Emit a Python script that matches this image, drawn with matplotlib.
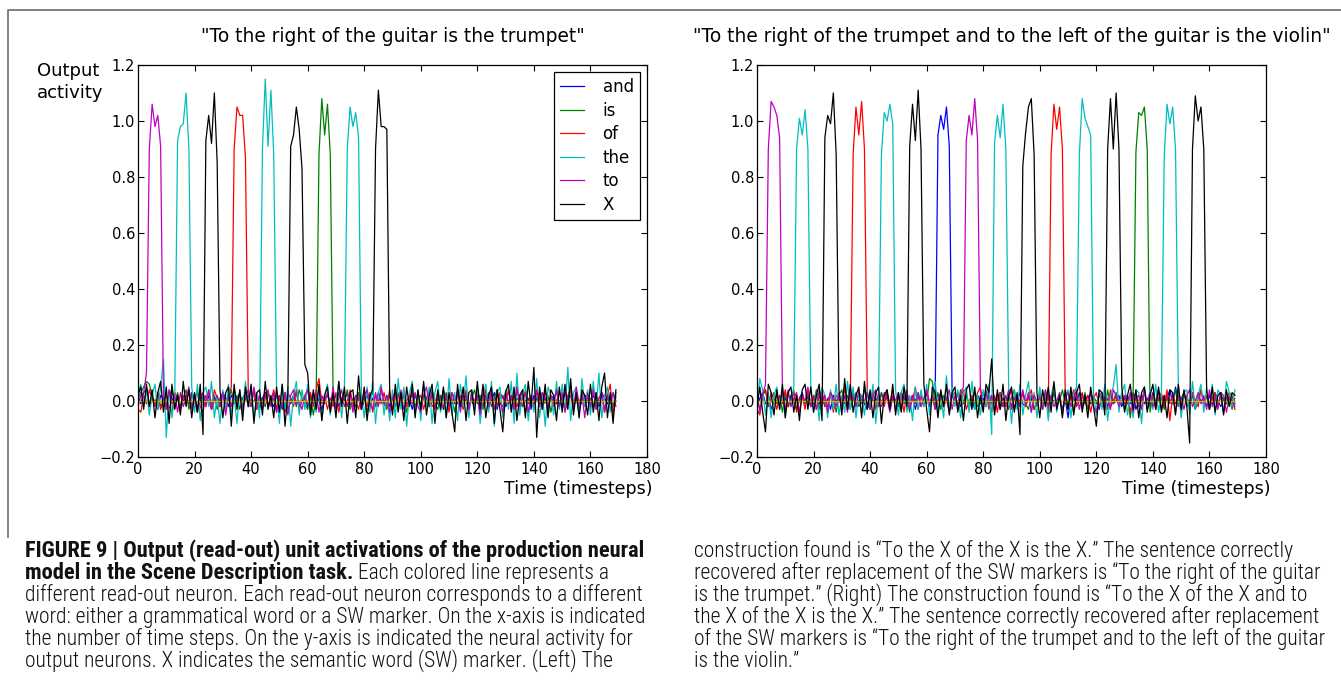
import numpy as np
import matplotlib
matplotlib.use("Agg")
import matplotlib.pyplot as plt
from matplotlib.lines import Line2D

# Read-out activations, in hundredths, one value per timestep (0..169)
# Left: "To the right of the guitar is the trumpet"
left_and = [
    2, -1, 3, 4, -2, 1, 0, -3, 2, 1,
    -2, 3, 1, -1, 2, -3, 0, 2, -1, 3,
    1, -2, 0, 3, -1, 2, -3, 1, 0, -2,
    3, 1, -2, 2, 0, -1, 3, -2, 1, 2,
    -1, 0, 2, -3, 1, 3, -1, 0, -2, 2,
    1, -3, 2, 0, -1, 1, 3, -2, 0, 1,
    -2, 2, -1, 3, 0, -3, 1, 2, -1, 0,
    2, -2, 1, 0, 3, -1, -2, 2, 1, -3,
    0, 2, -1, 1, -2, 3, 0, -1, 2, -2,
    1, 3, -2, 0, 2, -1, 1, -3, 2, 0,
    -1, 2, 1, -2, 3, 0, -1, 2, -3, 1,
    2, -1, 0, 3, -2, 1, 2, -1, 0, -2,
    3, 1, -2, 2, -1, 0, 3, -3, 1, 2,
    -2, 0, 1, -1, 3, 2, -2, 0, 1, -3,
    2, 1, -1, 3, 0, -2, 2, 1, -1, 0,
    -2, 3, 1, 5, -1, 2, -3, 0, 2, 1,
    -1, 2, 0, -2, 3, 1, -1, 2, -2, 0,
]
left_is = [
    1, 3, 5, 7, 6, 2, -1, 3, -2, 0,
    -3, 2, 4, -1, 3, -2, 1, 4, -3, 2,
    0, -4, 3, 1, -2, 4, -1, 2, -3, 1,
    3, -2, 0, 4, -1, 2, -3, 1, 3, -2,
    -1, 4, -3, 2, 0, -2, 3, -1, 1, -4,
    2, -1, 3, -3, 0, 2, -2, 4, 1, -1,
    -3, 2, -5, 1, 88, 108, 95, 106, 88, 2,
    -2, 3, -1, 0, 4, -3, 1, -2, 3, -1,
    2, -4, 1, 3, -2, 0, 4, -1, -3, 2,
    1, -2, 3, -1, 2, -4, 0, 3, -2, 1,
    -3, 2, 1, -2, 4, -1, -3, 2, 0, 3,
    -2, 1, -4, 3, -1, 2, 0, -3, 1, 4,
    -1, 2, -3, 0, 3, -2, 1, 4, -1, -2,
    3, -1, 2, -3, 1, 0, -2, 4, -1, 2,
    -3, 1, 3, -2, 0, 2, -4, 1, 3, -1,
    2, -3, 0, 4, -2, 1, -1, 3, -2, 0,
    1, -2, 3, -1, 2, -3, 1, 0, -2, 3,
]
left_of = [
    -3, -4, 2, -1, 4, 1, -2, 3, -3, 0,
    2, -2, -4, 3, 1, -3, 2, -1, 4, -2,
    1, 3, -2, -4, 2, 0, -3, 4, 1, -2,
    3, -1, 2, 5, 90, 105, 102, 102, 87, 3,
    -2, 4, -3, 1, -1, 3, -2, 0, 4, -3,
    2, -1, -4, 3, 1, -2, 4, -3, 0, 2,
    -1, 3, -2, 4, 8, -1, 2, -3, 1, -2,
    3, -4, 1, 2, -2, 4, -1, 0, -3, 2,
    1, -2, 3, -4, 2, 0, -1, 3, -2, 4,
    -3, 1, 2, -1, 4, -2, 0, 3, -4, 1,
    2, -3, 1, 4, -2, -1, 3, 0, -2, 2,
    -4, 3, 1, -1, 2, -3, 4, -2, 1, 0,
    3, -2, -1, 4, -3, 2, 0, -2, 3, 1,
    -1, 4, -3, 2, -2, 1, 3, -4, 0, 2,
    -2, 3, 1, -3, 4, -1, 2, -2, 0, 3,
    1, -3, 2, 4, -2, 1, -4, 3, -1, 2,
    -3, 5, -2, 1, 3, -4, 2, 6, -5, 2,
]
left_the = [
    3, 6, -2, 4, -5, 2, 6, -3, 5, 15,
    -13, 4, -6, 2, 93, 98, 99, 110, 90, 5,
    -4, 6, -7, 3, 5, -2, 7, -6, 2, -8,
    4, -3, 6, -5, 2, -8, 4, -4, 7, -2,
    5, -7, 3, -6, 90, 115, 91, 111, 88, 4,
    -8, 6, -3, 5, -9, 2, 7, -5, 4, -3,
    6, -6, 3, -4, 5, -7, 2, 6, -5, 3,
    -2, 7, -6, 4, 90, 105, 98, 103, 94, 2,
    -6, 5, -4, 7, -8, 3, 6, -5, 2, -7,
    4, -6, 8, -3, 5, -9, 3, 7, -5, 4,
    -7, 6, -2, 5, -8, 3, 7, -4, 2, -6,
    8, -5, 3, -7, 6, -2, 9, -6, 4, -3,
    5, -8, 2, 6, -4, 7, -9, 3, 5, -6,
    4, -3, 7, -8, 10, -5, 3, 6, -7, 2,
    -4, 8, -6, 3, -9, 5, 2, -5, 7, -3,
    6, -4, 12, -7, 3, 5, -6, 8, -2, 4,
    -5, 7, -3, 10, -6, 2, 5, -4, 3, 1,
]
left_to = [
    -2, 2, 3, 10, 90, 106, 98, 102, 91, 2,
    -3, 4, -1, 2, -4, 3, -2, 1, 5, -3,
    2, -4, 1, 3, -2, 4, -3, 0, 2, -1,
    3, -5, 2, -2, 4, -1, 3, -3, 1, 4,
    -2, 5, -1, 2, -3, 1, 4, -2, 3, -4,
    1, -2, 3, -5, 2, 4, -1, 0, -3, 2,
    4, -2, 1, 3, -4, 2, -1, 3, -2, 5,
    -3, 1, 4, -2, 0, 3, -4, 2, 1, -3,
    2, 4, -1, -3, 3, -2, 5, -1, 2, -4,
    1, 3, -2, 4, -3, 0, 2, -1, 3, -2,
    -4, 2, 5, -1, 3, -3, 1, -2, 4, 0,
    -2, 3, -1, 4, -4, 2, 1, -3, 3, -1,
    2, -5, 3, 1, -2, 4, -3, 2, 0, -4,
    3, -1, 2, -3, 5, -2, 1, 3, -4, 2,
    -1, 4, -2, 3, 1, -3, 2, -1, 4, -2,
    3, -4, 1, 2, -3, 5, -1, 2, -6, 3,
    -2, 4, -3, 1, 3, -4, 2, -1, 3, -2,
]
left_X = [
    2, 5, -3, 6, -2, 4, -6, 3, 7, -4,
    5, -8, 6, -3, 2, -5, 7, -2, 4, -6,
    3, -4, 6, -12, 93, 102, 92, 110, 85, 4,
    -6, 3, 5, -9, 6, -3, 4, -7, 5, -2,
    6, -8, 3, 4, -5, 7, -3, 2, -6, 5,
    -4, 6, -9, 3, 91, 95, 105, 97, 83, 13,
    10, -5, 4, -3, 6, -7, 2, 5, -4, 3,
    -6, 7, -2, 5, -8, 3, 4, -6, 9, -3,
    5, -7, 2, 4, 90, 111, 98, 98, 97, 3,
    -5, 6, -4, 3, -7, 5, -2, 6, -6, 4,
    -3, 7, -5, 2, 6, -8, 4, -3, 5, -6,
    3, -4, -11, 6, -2, 5, -7, 3, 4, -5,
    7, -3, 6, -6, 2, 5, -8, 4, -3, -11,
    3, 6, -4, 5, -7, 2, 4, -6, 7, -2,
    12, -13, 5, -3, 6, -6, 4, 2, -7, 5,
    -4, 6, -3, 8, -5, 3, -6, 4, 2, -5,
    6, -4, 3, -7, 5, 10, -6, 3, -8, 4,
]

# Right: "To the right of the trumpet and to the left of the guitar is the violin"
right_and = [
    -2, 1, 3, -1, 2, -3, 0, 2, -1, 3,
    1, -2, 2, 0, -3, 1, 3, -1, 2, -2,
    0, 3, -1, 2, -2, 1, -3, 2, 0, 1,
    -1, 2, -3, 1, 3, -2, 0, 2, -1, -3,
    2, 0, 1, -2, 3, -1, 2, -3, 1, 0,
    -2, 3, 1, -1, 0, 2, -3, 1, 2, -1,
    3, -2, 0, 1, 95, 102, 97, 105, 91, 2,
    -1, 3, -2, 0, 2, -1, 1, -3, 2, 0,
    1, -2, 3, -1, 0, 2, -3, 1, -1, 2,
    -2, 1, 0, 3, -1, -2, 2, 1, -3, 0,
    2, -1, 3, -2, 1, 0, -1, 2, -3, 1,
    -6, 2, 1, -1, 3, -2, 0, 2, -1, 1,
    0, -3, 2, 1, -2, 3, -1, 0, 2, -2,
    1, 2, -1, 3, -3, 0, 2, -1, 1, -2,
    3, -1, 0, 2, -2, 1, 4, -1, 5, 0,
    -2, 2, 1, -1, 3, -3, 2, 0, 1, -2,
    2, -1, 3, 0, -2, 1, -1, 2, 0, -1,
]
right_is = [
    1, -3, 2, 4, -2, 1, 3, -1, 2, -4,
    3, -2, 1, 4, -3, 0, 2, -1, 3, -2,
    -1, 4, -3, 2, 0, -2, 3, 1, -4, 2,
    4, -1, 2, -3, 1, 3, -2, 0, 4, -1,
    -3, 2, 1, -2, 3, -1, 4, -3, 2, 0,
    -2, 3, -1, 1, -4, 2, 0, 3, -2, 1,
    -1, 8, 7, -2, 3, -3, 2, 1, -4, 3,
    0, -2, 4, -1, 2, -3, 1, 3, -2, -1,
    3, -1, 2, -4, 1, 0, 3, -2, 2, -3,
    1, 4, -2, 0, 3, -1, -3, 2, 1, -2,
    4, -3, 1, 2, -1, 3, -2, 0, 4, -1,
    -2, 3, -4, 1, 2, -1, 3, -3, 0, 2,
    -1, 2, 1, -3, 4, -2, 0, 3, -1, 2,
    -3, 1, -6, 2, 89, 103, 102, 105, 90, -4,
    2, -2, 3, 1, -3, 2, 0, -1, 4, -2,
    1, 3, -2, 0, 2, -3, 1, 4, -1, 2,
    -3, 1, 2, -2, 3, 0, -1, 2, -3, 1,
]
right_of = [
    -3, -5, 2, 4, -2, 3, 1, -3, 2, -1,
    4, -2, 0, 3, -4, 1, 2, -3, 4, -1,
    2, -3, 1, 4, -2, 0, 3, -4, 2, 1,
    -2, 5, -3, 1, 88, 105, 95, 107, 90, 3,
    -1, 4, -3, 2, 0, -2, 3, -1, 4, -3,
    1, 2, -4, 3, -1, 0, 5, -3, 2, -2,
    4, -1, 2, -3, 0, 3, -2, 1, -4, 2,
    3, -2, 1, 4, -3, 0, 2, -1, 3, 5,
    -2, 4, -3, 1, 2, -4, 3, 0, -2, 1,
    4, -3, 2, -1, 3, -2, 1, 4, -3, 0,
    2, -1, 3, -4, 88, 106, 97, 105, 90, 2,
    -3, 1, 4, -2, 0, 3, -1, 2, -4, 1,
    3, -2, 1, 0, -3, 4, -1, 2, -2, 3,
    -1, 2, -4, 1, 3, -2, 0, 4, -3, 1,
    2, -3, 1, 3, -2, 4, -7, 2, -1, 3,
    -4, 2, 1, -3, 3, 0, -2, 4, -1, 2,
    -3, 1, 3, -2, 2, -4, 1, 3, 2, -3,
]
right_the = [
    -2, 8, 4, -5, 3, -6, 2, 5, -3, 4,
    -6, 3, -2, 5, 90, 101, 95, 104, 90, 6,
    -4, 3, -7, 5, 2, -6, 4, -3, 6, -5,
    2, -4, 7, -3, 5, -6, 3, 2, -5, 4,
    -3, 6, -8, 3, 88, 103, 100, 106, 99, 4,
    -5, 3, 6, -4, 2, -7, 5, -3, 4, -2,
    6, -5, 3, 7, -4, 2, -6, 9, -3, 5,
    -2, 4, -6, 3, 5, -4, 7, -3, 2, -5,
    4, -2, 6, -12, 92, 102, 94, 106, 90, 5,
    -8, 4, -3, 6, -5, 2, 7, -4, 3, -6,
    5, -3, 4, -7, 2, 6, -4, 3, -5, 2,
    4, -6, 3, 5, 88, 108, 101, 98, 95, 3,
    -5, 4, -3, 6, -7, 2, 5, 13, -4, 3,
    6, -5, 2, -6, 4, 3, -8, 5, -2, 4,
    -3, 6, -4, 2, 87, 106, 99, 105, 90, 5,
    -6, 3, 4, -5, 7, -3, 2, 6, -4, 5,
    -3, 6, -5, 4, 2, -4, 7, 3, -2, 4,
]
right_to = [
    3, -4, 2, 6, 90, 107, 105, 102, 94, 2,
    -3, 4, -2, 1, 3, -4, 2, 0, 5, -2,
    1, -3, 4, -1, 2, -4, 3, 1, -2, 3,
    -1, 2, -4, 3, 1, -2, 4, -1, 0, 3,
    -3, 2, 4, -1, -2, 3, 1, -4, 2, 0,
    3, -2, 1, 4, -3, 2, -1, 3, -2, 1,
    4, -1, 2, -3, 0, 3, -2, 1, 4, -3,
    2, -1, 3, 5, 93, 102, 95, 108, 93, 4,
    -2, 3, -1, 2, -4, 1, 3, -2, 0, 4,
    -3, 1, 2, -2, 4, -1, 3, -4, 2, 0,
    1, -3, 4, -1, 2, -2, 0, 3, -4, 1,
    3, -2, 1, 4, -3, 2, -1, 0, 3, -2,
    -4, 2, 3, -1, 1, -3, 4, 2, -2, 0,
    2, -1, 3, -4, 1, 2, -3, 4, -1, 3,
    -2, 0, 4, -3, 2, 1, -1, 3, -4, 2,
    1, -3, 2, 4, -2, 0, 3, -1, 2, -3,
    4, -2, 1, -3, 3, 2, -4, 1, 0, -2,
]
right_X = [
    -2, 5, -4, -11, 6, 3, -5, 4, -3, 6,
    -6, 3, 5, -4, 2, -7, 4, 6, -3, 5,
    -4, 2, 6, -7, 94, 102, 99, 110, 88, 4,
    -5, 8, -3, 6, -4, 2, 5, -6, 7, -3,
    4, -6, 3, 5, -8, 2, 4, -3, 6, -5,
    3, -4, 5, -2, 91, 106, 93, 111, 90, 6,
    -3, -11, 5, 3, -6, 4, -2, 6, -5, 3,
    5, -4, 2, -7, 4, 6, -3, 5, -6, 2,
    -4, 6, 3, 15, -5, 4, -3, 6, -7, 2,
    5, -4, 3, -12, 84, 96, 105, 108, 88, 3,
    -6, 4, -2, 5, -4, 7, -3, 2, -6, 4,
    -3, 5, -5, 3, 6, -4, 2, -6, 5, -2,
    -9, 4, 3, -5, 90, 108, 90, 110, 90, 5,
    -4, 2, 6, -3, 4, -6, 3, 5, -4, 2,
    6, -3, 5, -4, 2, -6, 4, 3, -5, 6,
    -3, 4, -2, -15, 90, 109, 100, 105, 90, 4,
    -3, 5, -4, 2, 3, -5, 4, -2, 3, 2,
]
# the unused read-out unit stays flat at zero in both runs
silent_unit = [0] * 170

words = ["and", "is", "of", "the", "to", "X"]
word_colors = ["#0000ff", "#008000", "#ff0000", "#00bfbf", "#bf00bf", "#000000"]
silent_color = "#bfbf00"

titles = ['"To the right of the guitar is the trumpet"',
          '"To the right of the trumpet and to the left of the guitar is the violin"']

caption_left = [
    [("FIGURE 9 | Output (read-out) unit activations of the production neural", "bold")],
    [("model in the Scene Description task.", "bold"), (" Each colored line represents a", 300)],
    [("different read-out neuron. Each read-out neuron corresponds to a different", 300)],
    [("word: either a grammatical word or a SW marker. On the x-axis is indicated", 300)],
    [("the number of time steps. On the y-axis is indicated the neural activity for", 300)],
    [("output neurons. X indicates the semantic word (SW) marker. (Left) The", 300)],
]
caption_right = [
    [("construction found is \u201cTo the X of the X is the X.\u201d The sentence correctly", 300)],
    [("recovered after replacement of the SW markers is \u201cTo the right of the guitar", 300)],
    [("is the trumpet.\u201d (Right) The construction found is \u201cTo the X of the X and to", 300)],
    [("the X of the X is the X.\u201d The sentence correctly recovered after replacement", 300)],
    [("of the SW markers is \u201cTo the right of the trumpet and to the left of the guitar", 300)],
    [("is the violin.\u201d", 300)],
]
caption_font = ["Roboto Condensed", "Archivo Narrow", "PT Sans Narrow",
                "Liberation Sans Narrow", "DejaVu Sans"]

W, H = 1341, 693


def px(x, y):
    """Pixel position (from top-left) to figure fraction."""
    return x / W, 1 - y / H


def plot_activity(ax, series):
    steps = np.arange(len(series[0]))
    for values, color in zip(series[:5], word_colors[:5]):
        ax.plot(steps, np.array(values) / 100, color=color, lw=0.9)
    ax.plot(steps, np.array(silent_unit) / 100, color=silent_color, lw=0.9)
    ax.plot(steps, np.array(series[5]) / 100, color=word_colors[5], lw=0.9)
    ax.set_xlim(0, 180)
    ax.set_ylim(-0.2, 1.2)
    ax.set_xticks(np.arange(0, 181, 20))
    ax.set_yticks(np.arange(-0.2, 1.21, 0.2))
    ax.tick_params(direction="in", top=True, right=True, length=4, width=0.8,
                   labelsize=10.5)
    ax.tick_params(axis="x", pad=3.5)
    ax.tick_params(axis="y", pad=2)
    for spine in ax.spines.values():
        spine.set_linewidth(0.9)


def draw_caption(fig, renderer, x0, y0, lines, sizes, step=22):
    for i, parts in enumerate(lines):
        cursor = x0
        for text, weight in parts:
            fx, fy = px(cursor, y0 + i * step)
            t = fig.text(fx, fy, text, fontsize=sizes[weight], fontweight=weight,
                         family=caption_font, color="#111111",
                         ha="left", va="baseline")
            cursor += t.get_window_extent(renderer).width


def text_width(fig, renderer, text, size, weight):
    probe = fig.text(0, 0, text, fontsize=size, fontweight=weight,
                     family=caption_font)
    width = probe.get_window_extent(renderer).width
    probe.remove()
    return width


fig = plt.figure(figsize=(W / 100, H / 100), dpi=100)

ax_left = fig.add_axes([138 / W, 1 - 457 / H, 509 / W, 392 / H])
ax_right = fig.add_axes([757 / W, 1 - 457 / H, 509 / W, 392 / H])

plot_activity(ax_left, [left_and, left_is, left_of, left_the, left_to, left_X])
plot_activity(ax_right, [right_and, right_is, right_of, right_the, right_to, right_X])

handles = [Line2D([], [], color=c, lw=0.9) for c in word_colors]
leg = ax_left.legend(handles, words, loc="upper right", fontsize=12,
                     handlelength=1.45, handletextpad=1.1, labelspacing=0.33,
                     borderpad=0.35, borderaxespad=0.45, fancybox=False,
                     framealpha=1, edgecolor="black")
leg.get_frame().set_linewidth(0.9)

for ax, title in zip([ax_left, ax_right], titles):
    pos = ax.get_position()
    fig.text((pos.x0 + pos.x1) / 2, 1 - 37 / H, title, fontsize=13.4,
             ha="center", va="center")
    fx, fy = px(W * pos.x1 + 5, 489)
    fig.text(fx, fy, "Time (timesteps)", fontsize=12.5, ha="right", va="center")

fx, fy = px(37, 82)
fig.text(fx, fy, "Output\nactivity", fontsize=13, ha="left", va="center",
         linespacing=1.25)

# open frame around the figure area
fig.add_artist(Line2D([8 / W, 8 / W, 1], [1 - 537 / H, 1 - 10 / H, 1 - 10 / H],
                      transform=fig.transFigure, color="#777777", lw=1.3))

# caption, sized so the widest lines span the column
fig.canvas.draw()
renderer = fig.canvas.get_renderer()
regular_size = 10 * 620 / text_width(fig, renderer, caption_left[3][0][0], 10, 300)
bold_size = 10 * 618 / text_width(fig, renderer, caption_left[0][0][0], 10, "bold")
sizes = {300: regular_size, "bold": bold_size}

draw_caption(fig, renderer, 25, 557, caption_left, sizes)
draw_caption(fig, renderer, 694, 557, caption_right, sizes)

fig.savefig("out.png", dpi=100)
